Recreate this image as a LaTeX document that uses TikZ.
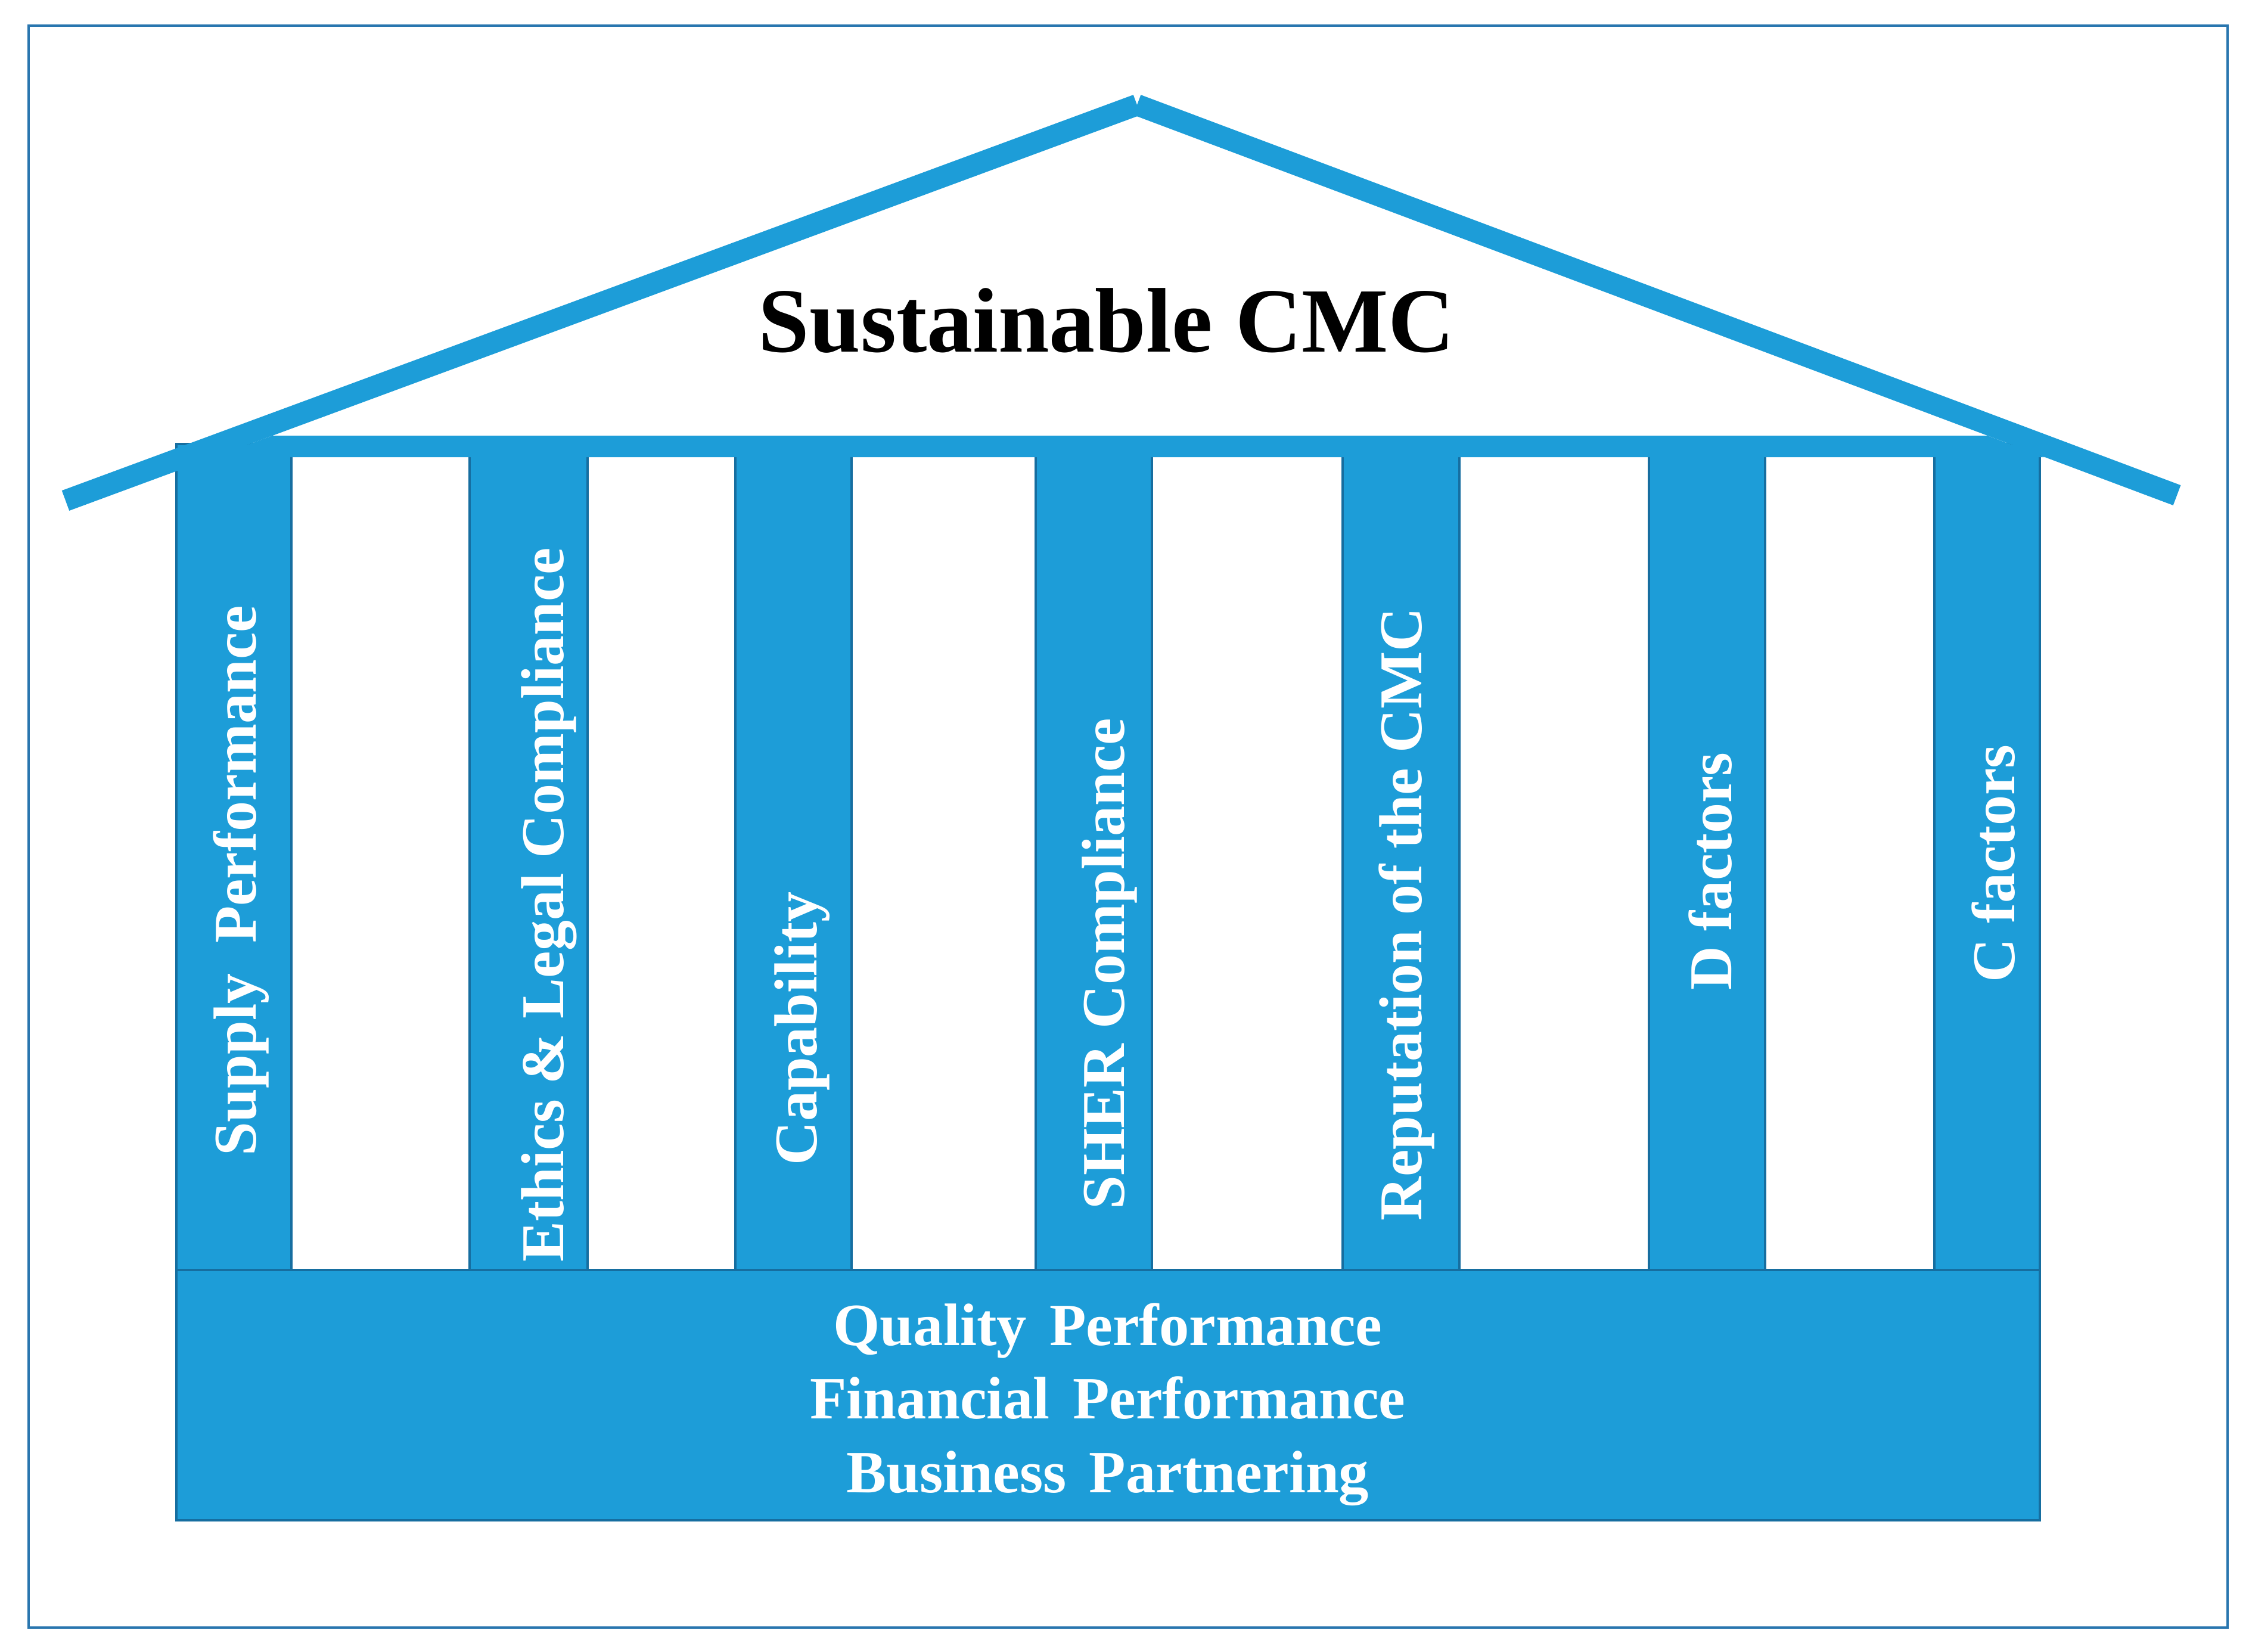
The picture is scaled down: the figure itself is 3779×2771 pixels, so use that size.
\documentclass[tikz,border=0pt]{standalone}
\usepackage{fontspec}
\setmainfont{Liberation Serif}
\definecolor{pillarblue}{RGB}{29,157,216}
\definecolor{edgeblue}{RGB}{22,110,160}
\definecolor{frameblue}{RGB}{41,118,175}
\begin{document}
\begin{tikzpicture}[x=0.01cm,y=-0.01cm,
  pillarbox/.style={fill=pillarblue,draw=edgeblue,line width=0.9pt},
  roofstroke/.style={draw=pillarblue,line width=10.24pt,line cap=butt},
  vlabel/.style={rotate=90,anchor=base,text=white,inner sep=0pt,
    font=\fontsize{29pt}{35pt}\selectfont\bfseries},
  hlabel/.style={anchor=base,text=white,inner sep=0pt,
    font=\fontsize{28.6pt}{35pt}\selectfont\bfseries},
  titlelabel/.style={anchor=base,text=black,inner sep=0pt,
    font=\fontsize{43.8pt}{50pt}\selectfont\bfseries}]
\useasboundingbox (0,0) rectangle (3779,2771);
\fill[white] (0,0) rectangle (3779,2771);
% outer frame
\draw[frameblue,line width=1.2pt] (48,43) rectangle (3738,2731);
% pillars
\path[pillarbox] (296,745) rectangle (489,2131);
\path[pillarbox] (788,745) rectangle (986,2131);
\path[pillarbox] (1234,745) rectangle (1429,2131);
\path[pillarbox] (1738,745) rectangle (1933,2131);
\path[pillarbox] (2253,745) rectangle (2449,2131);
\path[pillarbox] (2767,745) rectangle (2962,2131);
\path[pillarbox] (3246,745) rectangle (3423,2131);
% base
\path[pillarbox] (296,2131) rectangle (3423,2551);
% beam under roof
\fill[pillarblue] (457,731) -- (3335,731) -- (3431,767) -- (360,767) -- cycle;
% roof
\coordinate (rl) at (110,840);
\coordinate (rp) at (1908,176);
\coordinate (rr) at (3653,831);
\draw[roofstroke] (rl) -- (rp);
\draw[roofstroke] (rp) -- (rr);
% title
\node[titlelabel] (title) at (1857,590) {Sustainable CMC};
% pillar labels
\node[vlabel] (sp) at (429,1478) {Supply~~Performance};
\node[vlabel] (el) at (945,1518) {Ethics \& Legal Compliance};
\node[vlabel] (cap) at (1370,1726) {Capability};
\node[vlabel] (sher) at (1886,1617) {SHER Compliance};
\node[vlabel] (rep) at (2385,1534) {Reputation of the CMC};
\node[vlabel] (df) at (2905,1462) {D factors};
\node[vlabel] (cf) at (3380,1449) {C factors};
% base labels
\node[hlabel] (qp) at (1859,2257) {Quality\hspace{0.38em}Performance};
\node[hlabel] (fp) at (1859,2380) {Financial\hspace{0.38em}Performance};
\node[hlabel] (bp) at (1859,2504) {Business\hspace{0.38em}Partnering};
\end{tikzpicture}
\end{document}
